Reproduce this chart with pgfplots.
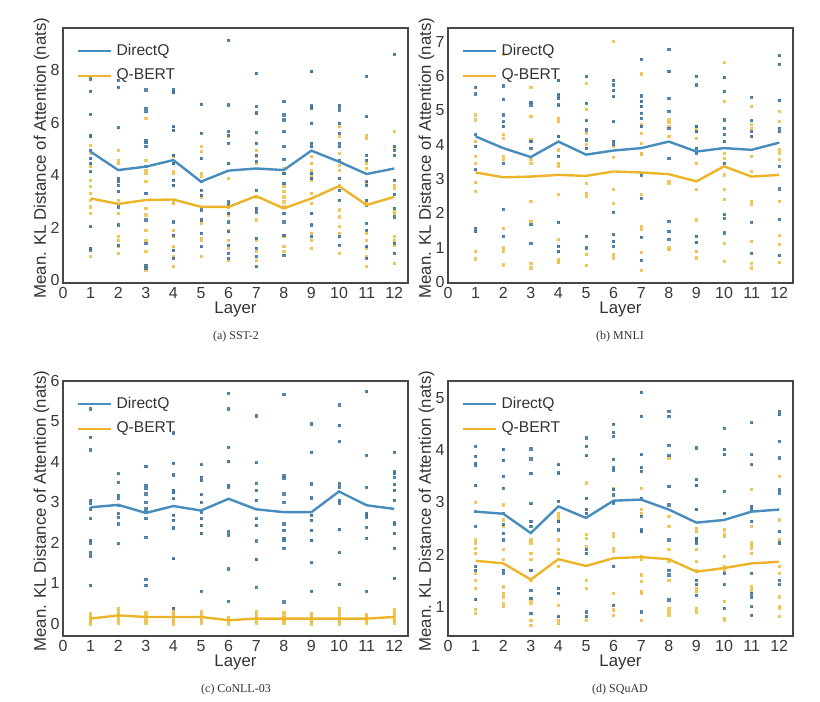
\documentclass[border=0pt]{standalone}
\usepackage{fontspec}
\setmainfont{Liberation Sans}
\newfontfamily\capfont{Liberation Serif}
\usepackage{pgfplots}
\pgfplotsset{compat=1.18}
\definecolor{dqblue}{RGB}{70,140,188}
\definecolor{dqdot}{RGB}{52,108,152}
\definecolor{qbyel}{RGB}{236,180,40}
\definecolor{qbdot}{RGB}{238,188,62}
\pgfplotsset{
 klbase/.style={
  scale only axis, width=172.5pt, height=127.5pt, anchor=south west,
  xmin=0, xmax=12.5, xtick={0,1,...,12},
  axis line style={draw=black!72, line width=1pt},
  major tick length=0pt,
  clip mode=individual,
  /pgf/number format/assume math mode=true,
  tick label style={font=\fontsize{8}{9}\selectfont, text=black!78},
  xticklabel style={inner sep=1pt, yshift=-1pt},
  yticklabel style={inner sep=1pt, xshift=-0.6pt},
  label style={font=\fontsize{8.4}{9}\selectfont, text=black!80, inner sep=0.5pt},
  xlabel={Layer},
  ylabel={Mean. KL Distance of Attention (nats)},
  xlabel style={at={(axis description cs:0.5,-0.104)}, anchor=center},
  ylabel style={at={(axis description cs:-0.062,0.49)}, anchor=center},
  legend style={draw=none, fill=none, at={(axis description cs:0.04,0.955)}, anchor=north west,
    font=\fontsize{7.8}{9}\selectfont, text=black!80, row sep=1.3pt, inner sep=0pt},
  legend cell align=left,
  legend image code/.code={\draw[#1] (0pt,0pt) -- (16.5pt,0pt);},
 },
 bdot/.style={only marks, mark=square*, mark size=0.55pt, color=dqdot, opacity=0.8, forget plot},
 ydot/.style={only marks, mark=square*, mark size=0.55pt, color=qbdot, opacity=0.8, forget plot},
 bline/.style={color=dqblue, line width=1.2pt, mark=none},
 yline/.style={color=qbyel, line width=1.2pt, mark=none},
}
\begin{document}
\begin{tikzpicture}
\path[use as bounding box] (0pt,0pt) rectangle (410pt,351pt);
% ---------------- (a) SST-2
\begin{axis}[klbase, at={(31.5pt,209.5pt)}, ymin=-0.11, ymax=9.6, ytick={0,2,4,6,8}]
\addplot[ydot] coordinates {
(1,5.14)(1,4.83)(1,4.32)(1,3.81)(1,3.56)(1,3.30)(1,3.05)(1,2.79)(1,2.54)(1,1.21)(1,0.89)
(2,4.95)(2,4.57)(2,4.44)(2,3.81)(2,3.37)(2,3.05)(2,2.54)(2,1.65)(2,1.52)(2,1.27)(2,1.02)
(3,6.16)(3,4.57)(3,4.19)(3,4.06)(3,3.75)(3,2.73)(3,2.48)(3,1.90)(3,1.52)(3,1.08)(3,0.51)(3,0.38)
(4,4.70)(4,4.13)(4,4.06)(4,3.62)(4,3.05)(4,2.92)(4,1.90)(4,1.65)(4,1.27)(4,0.89)(4,0.51)
(5,5.08)(5,4.89)(5,4.06)(5,3.94)(5,3.17)(5,2.29)(5,2.16)(5,1.59)(5,1.52)(5,0.89)
(6,5.46)(6,3.87)(6,2.79)(6,2.48)(6,1.90)(6,1.52)(6,1.21)(6,0.76)
(7,6.35)(7,4.95)(7,4.70)(7,4.44)(7,3.17)(7,2.29)(7,1.52)(7,1.08)(7,0.76)
(8,4.25)(8,4.06)(8,3.56)(8,3.37)(8,3.17)(8,2.98)(8,2.79)(8,1.65)(8,1.27)(8,1.08)
(9,4.70)(9,4.44)(9,4.19)(9,3.94)(9,3.81)(9,3.30)(9,2.92)(9,1.78)(9,1.52)(9,1.21)
(10,6.60)(10,5.84)(10,5.46)(10,4.83)(10,4.38)(10,4.19)(10,3.62)(10,2.67)(10,2.41)(10,2.03)(10,1.78)(10,1.02)
(11,5.52)(11,5.40)(11,4.44)(11,4.25)(11,3.68)(11,2.98)(11,1.78)(11,1.52)(11,1.21)(11,0.89)(11,0.51)
(12,5.65)(12,5.02)(12,3.62)(12,3.49)(12,2.60)(12,2.54)(12,1.65)(12,1.52)(12,1.33)(12,0.63)
};
\addplot[bdot] coordinates {
(1,7.66)(1,7.20)(1,6.32)(1,5.52)(1,5.46)(1,4.95)(1,4.63)(1,4.44)(1,4.13)(1,2.03)(1,1.21)(1,1.14)
(2,7.62)(2,7.34)(2,5.80)(2,3.87)(2,3.75)(2,3.62)(2,3.37)(2,2.79)(2,2.10)(2,1.33)
(3,7.24)(3,6.54)(3,6.41)(3,5.33)(3,5.23)(3,5.08)(3,4.32)(3,3.30)(3,2.29)(3,1.40)(3,0.57)(3,0.44)
(4,7.24)(4,7.14)(4,5.84)(4,5.71)(4,4.76)(4,4.44)(4,3.81)(4,3.62)(4,2.22)(4,1.71)(4,1.14)(4,0.83)
(5,6.70)(5,5.59)(5,4.63)(5,3.75)(5,3.43)(5,3.24)(5,2.67)(5,2.29)(5,1.78)(5,1.27)
(6,9.14)(6,6.67)(6,5.65)(6,5.52)(6,5.21)(6,4.44)(6,2.98)(6,2.86)(6,2.54)(6,2.22)(6,1.84)(6,1.33)(6,1.02)(6,0.83)
(7,7.87)(7,6.60)(7,6.37)(7,5.61)(7,5.21)(7,4.76)(7,4.51)(7,3.43)(7,2.73)(7,2.60)(7,1.59)(7,1.21)(7,0.89)(7,0.51)
(8,6.79)(8,6.29)(8,6.10)(8,5.65)(8,5.08)(8,4.60)(8,4.06)(8,3.68)(8,2.54)(8,2.22)(8,1.71)(8,0.95)
(9,7.94)(9,6.63)(9,6.54)(9,5.97)(9,5.21)(9,5.08)(9,4.06)(9,3.87)(9,2.54)(9,2.10)(9,1.65)
(10,6.63)(10,6.48)(10,5.97)(10,5.59)(10,5.21)(10,5.08)(10,4.57)(10,3.87)(10,3.43)(10,3.05)(10,1.65)(10,1.33)
(11,7.77)(11,6.22)(11,4.76)(11,4.57)(11,3.75)(11,3.62)(11,3.05)(11,2.86)(11,2.16)(11,1.90)(11,1.27)(11,0.83)
(12,8.60)(12,5.08)(12,4.95)(12,4.76)(12,3.81)(12,3.26)(12,2.73)(12,2.41)(12,1.40)(12,1.02)
};
\addplot[bline] coordinates {(1,4.89)(2,4.19)(3,4.32)(4,4.57)(5,3.75)(6,4.17)(7,4.25)(8,4.19)(9,4.93)(10,4.51)(11,4.04)(12,4.25)};
\addlegendentry{DirectQ}
\addplot[yline] coordinates {(1,3.11)(2,2.90)(3,3.05)(4,3.07)(5,2.79)(6,2.79)(7,3.20)(8,2.73)(9,3.11)(10,3.58)(11,2.86)(12,3.17)};
\addlegendentry{Q-BERT}
\end{axis}
% ---------------- (b) MNLI
\begin{axis}[klbase, at={(224pt,209.5pt)}, ymin=-0.03, ymax=7.4, ytick={0,1,...,7}]
\addplot[ydot] coordinates {
(1,4.87)(1,4.72)(1,4.09)(1,3.66)(1,3.46)(1,2.90)(1,2.64)(1,0.89)(1,0.67)
(2,6.64)(2,4.29)(2,4.19)(2,3.66)(2,3.56)(2,1.57)(2,0.99)(2,0.89)(2,0.50)
(3,5.67)(3,4.82)(3,4.14)(3,3.56)(3,3.46)(3,2.35)(3,1.77)(3,0.55)(3,0.41)
(4,4.77)(4,4.67)(4,3.85)(4,3.46)(4,3.37)(4,2.54)(4,1.23)(4,0.65)(4,0.57)
(5,5.79)(5,5.03)(5,4.34)(5,4.00)(5,2.88)(5,2.59)(5,2.49)(5,0.80)(5,0.48)
(6,7.00)(6,3.95)(6,3.64)(6,2.69)(6,2.28)(6,0.80)(6,0.70)
(7,6.06)(7,4.58)(7,4.34)(7,4.04)(7,3.75)(7,3.71)(7,2.54)(7,1.62)(7,1.52)(7,0.86)(7,0.34)
(8,4.72)(8,4.65)(8,4.53)(8,4.24)(8,2.93)(8,2.88)(8,0.99)(8,0.94)
(9,4.53)(9,4.43)(9,4.19)(9,3.46)(9,2.69)(9,1.81)(9,0.89)(9,0.70)
(10,6.39)(10,5.26)(10,3.75)(10,3.61)(10,3.12)(10,2.69)(10,2.40)(10,1.13)(10,0.60)
(11,5.11)(11,4.58)(11,4.48)(11,3.66)(11,3.22)(11,2.35)(11,2.25)(11,1.18)(11,0.55)(11,0.41)
(12,4.97)(12,4.67)(12,3.85)(12,3.75)(12,3.56)(12,2.35)(12,1.35)(12,1.09)(12,0.57)
};
\addplot[bdot] coordinates {
(1,5.67)(1,5.48)(1,4.29)(1,3.95)(1,3.27)(1,1.57)(1,1.47)
(2,5.71)(2,5.32)(2,4.87)(2,4.67)(2,4.53)(2,3.46)(2,2.12)(2,1.33)
(3,5.23)(3,5.16)(3,4.09)(3,3.90)(3,1.67)(3,1.13)
(4,5.87)(4,5.45)(4,5.35)(4,5.16)(4,4.24)(4,3.66)(4,1.74)(4,1.04)(4,0.89)
(5,5.98)(5,5.21)(5,4.70)(5,4.43)(5,4.14)(5,3.90)(5,1.33)(5,0.99)
(6,5.87)(6,5.74)(6,5.58)(6,5.40)(6,4.67)(6,4.09)(6,4.00)(6,2.03)(6,1.38)(6,1.18)(6,1.04)
(7,6.49)(7,5.42)(7,5.26)(7,5.11)(7,4.92)(7,4.77)(7,4.53)(7,3.12)(7,2.44)(7,1.31)(7,0.63)
(8,6.78)(8,6.13)(8,5.35)(8,4.97)(8,4.48)(8,3.61)(8,1.77)(8,1.47)(8,1.25)
(9,6.00)(9,5.74)(9,4.53)(9,4.38)(9,3.90)(9,3.75)(9,1.33)(9,1.15)
(10,5.96)(10,5.55)(10,4.72)(10,4.48)(10,4.29)(10,4.09)(10,3.46)(10,1.96)(10,1.86)(10,1.43)
(11,5.38)(11,4.70)(11,4.38)(11,4.24)(11,1.74)(11,0.84)
(12,6.59)(12,6.35)(12,5.29)(12,4.48)(12,4.38)(12,3.37)(12,2.71)(12,1.83)(12,0.77)
};
\addplot[bline] coordinates {(1,4.24)(2,3.90)(3,3.64)(4,4.09)(5,3.71)(6,3.83)(7,3.90)(8,4.09)(9,3.80)(10,3.90)(11,3.85)(12,4.06)};
\addlegendentry{DirectQ}
\addplot[yline] coordinates {(1,3.19)(2,3.05)(3,3.07)(4,3.12)(5,3.09)(6,3.22)(7,3.19)(8,3.14)(9,2.93)(10,3.37)(11,3.07)(12,3.12)};
\addlegendentry{Q-BERT}
\end{axis}
% ---------------- (c) CoNLL-03
\begin{axis}[klbase, at={(31.5pt,33pt)}, ymin=-0.3, ymax=6.0, ytick={0,1,...,6}]
\addplot[ydot] coordinates {
(1,0.00)(1,0.04)(1,0.08)(1,0.12)(1,0.16)(1,0.20)(1,0.25)
(2,0.02)(2,0.08)(2,0.14)(2,0.20)(2,0.26)(2,0.32)(2,0.38)
(3,0.02)(3,0.07)(3,0.12)(3,0.18)(3,0.23)(3,0.28)
(4,0.00)(4,0.06)(4,0.12)(4,0.17)(4,0.23)(4,0.30)(4,0.36)
(5,0.02)(5,0.07)(5,0.12)(5,0.18)(5,0.24)(5,0.30)
(6,0.00)(6,0.04)(6,0.08)(6,0.12)(6,0.16)
(7,0.02)(7,0.07)(7,0.13)(7,0.19)(7,0.25)(7,0.30)
(8,0.02)(8,0.06)(8,0.11)(8,0.16)(8,0.22)(8,0.28)
(9,0.00)(9,0.05)(9,0.10)(9,0.15)(9,0.20)(9,0.26)
(10,0.00)(10,0.06)(10,0.12)(10,0.19)(10,0.26)(10,0.33)(10,0.38)
(11,0.02)(11,0.07)(11,0.12)(11,0.17)(11,0.22)
(12,0.02)(12,0.07)(12,0.12)(12,0.18)(12,0.24)(12,0.30)(12,0.35)
};
\addplot[bdot] coordinates {
(1,5.31)(1,4.61)(1,4.30)(1,3.05)(1,2.97)(1,2.84)(1,2.60)(1,2.06)(1,2.00)(1,1.77)(1,1.68)(1,0.95)
(2,3.71)(2,3.50)(2,3.17)(2,3.09)(2,2.93)(2,2.72)(2,2.64)(2,2.47)(2,1.98)
(3,3.89)(3,3.42)(3,3.34)(3,3.21)(3,3.01)(3,2.84)(3,2.76)(3,2.60)(3,2.14)(3,1.10)(3,0.95)
(4,4.72)(4,3.97)(4,3.68)(4,3.30)(4,3.24)(4,3.09)(4,2.68)(4,2.56)(4,2.37)(4,1.61)(4,0.39)
(5,3.93)(5,3.62)(5,3.54)(5,3.19)(5,3.01)(5,2.76)(5,2.60)(5,2.43)(5,2.23)(5,0.81)
(6,5.70)(6,5.31)(6,4.36)(6,4.01)(6,3.42)(6,3.38)(6,2.27)(6,2.19)(6,1.36)(6,0.56)
(7,5.14)(7,3.98)(7,3.48)(7,3.30)(7,3.05)(7,2.60)(7,2.43)(7,2.05)(7,1.59)(7,0.91)
(8,5.66)(8,3.66)(8,3.60)(8,3.21)(8,3.01)(8,2.47)(8,2.31)(8,2.12)(8,2.06)(8,1.87)(8,0.54)
(9,4.94)(9,4.24)(9,3.46)(9,3.11)(9,2.68)(9,2.56)(9,2.31)(9,2.06)(9,1.51)(9,0.81)
(10,5.41)(10,4.90)(10,4.50)(10,3.46)(10,3.38)(10,3.05)(10,2.99)(10,2.33)(10,1.76)(10,0.97)
(11,5.74)(11,4.17)(11,3.38)(11,2.72)(11,2.68)(11,2.64)(11,2.39)(11,2.12)(11,0.81)
(12,4.24)(12,3.76)(12,3.71)(12,3.62)(12,3.44)(12,3.30)(12,3.05)(12,2.50)(12,2.46)(12,2.23)(12,1.87)(12,1.13)
};
\addplot[bline] coordinates {(1,2.88)(2,2.94)(3,2.74)(4,2.91)(5,2.80)(6,3.09)(7,2.83)(8,2.76)(9,2.76)(10,3.27)(11,2.93)(12,2.84)};
\addlegendentry{DirectQ}
\addplot[yline] coordinates {(1,0.13)(2,0.21)(3,0.17)(4,0.17)(5,0.17)(6,0.09)(7,0.13)(8,0.13)(9,0.13)(10,0.13)(11,0.13)(12,0.17)};
\addlegendentry{Q-BERT}
\end{axis}
% ---------------- (d) SQuAD
\begin{axis}[klbase, at={(224pt,33pt)}, ymin=0.44, ymax=5.32, ytick={1,2,...,5}]
\addplot[ydot] coordinates {
(1,3.00)(1,2.28)(1,2.22)(1,2.12)(1,2.02)(1,1.64)(1,1.50)(1,1.35)(1,0.95)(1,0.88)
(2,2.95)(2,2.66)(2,2.54)(2,2.09)(2,1.90)(2,1.38)(2,1.26)(2,1.19)(2,1.06)(2,1.00)
(3,2.28)(3,2.22)(3,2.02)(3,1.90)(3,1.70)(3,1.51)(3,1.13)(3,1.06)(3,0.74)(3,0.65)
(4,2.79)(4,2.73)(4,2.66)(4,2.28)(4,2.09)(4,2.02)(4,1.77)(4,1.03)(4,0.74)(4,0.68)
(5,3.37)(5,2.38)(5,2.31)(5,2.15)(5,1.51)(5,1.35)(5,0.74)
(6,3.27)(6,2.41)(6,2.34)(6,2.12)(6,2.06)(6,1.26)(6,0.94)(6,0.84)
(7,3.27)(7,2.86)(7,2.79)(7,1.96)(7,1.90)(7,1.61)(7,1.48)(7,1.29)(7,1.26)(7,0.74)
(8,3.85)(8,2.73)(8,2.54)(8,2.09)(8,1.86)(8,1.51)(8,0.97)(8,0.90)(8,0.84)
(9,2.50)(9,2.44)(9,2.09)(9,1.86)(9,1.70)(9,1.35)(9,1.29)(9,0.97)(9,0.90)
(10,2.47)(10,2.38)(10,2.34)(10,1.96)(10,1.77)(10,1.70)(10,1.10)(10,0.78)(10,0.74)
(11,3.24)(11,2.54)(11,2.22)(11,2.18)(11,2.12)(11,2.02)(11,1.38)(11,1.32)
(12,3.50)(12,2.66)(12,2.28)(12,2.22)(12,1.77)(12,1.64)(12,1.19)(12,1.00)(12,0.97)(12,0.81)
};
\addplot[bdot] coordinates {
(1,4.07)(1,3.88)(1,3.75)(1,3.70)(1,3.32)(1,2.82)(1,2.54)(1,1.77)(1,1.70)(1,1.14)
(2,4.01)(2,3.80)(2,3.50)(2,3.27)(2,2.79)(2,2.57)(2,2.41)(2,2.28)(2,1.70)(2,1.64)
(3,4.02)(3,3.83)(3,3.55)(3,2.97)(3,2.63)(3,2.54)(3,1.70)(3,1.32)(3,1.16)(3,0.87)
(4,3.72)(4,3.56)(4,3.02)(4,2.63)(4,2.47)(4,1.35)(4,1.26)(4,0.81)
(5,4.23)(5,4.07)(5,3.89)(5,3.08)(5,2.86)(5,2.79)(5,2.09)(5,2.02)(5,0.90)(5,0.81)
(6,4.49)(6,4.33)(6,4.26)(6,3.82)(6,3.66)(6,3.62)(6,3.24)(6,3.14)(6,2.98)(6,1.77)(6,1.03)
(7,5.10)(7,4.65)(7,3.91)(7,3.66)(7,3.59)(7,3.08)(7,2.73)(7,2.47)(7,2.44)(7,0.90)
(8,4.74)(8,4.65)(8,4.09)(8,3.89)(8,3.30)(8,2.95)(8,2.28)(8,1.70)(8,1.61)(8,1.13)
(9,4.04)(9,3.43)(9,3.32)(9,2.86)(9,2.31)(9,2.28)(9,2.22)(9,1.51)(9,1.42)(9,1.22)
(10,4.42)(10,4.01)(10,3.91)(10,3.21)(10,2.79)(10,1.64)(10,1.42)(10,0.97)
(11,4.52)(11,3.91)(11,3.72)(11,2.92)(11,2.86)(11,2.63)(11,1.64)(11,1.26)(11,1.19)(11,1.00)(11,0.84)
(12,4.74)(12,4.68)(12,4.17)(12,3.85)(12,3.24)(12,3.18)(12,2.44)(12,2.22)(12,1.51)(12,1.42)
};
\addplot[bline] coordinates {(1,2.82)(2,2.78)(3,2.41)(4,2.92)(5,2.70)(6,3.03)(7,3.05)(8,2.86)(9,2.61)(10,2.66)(11,2.82)(12,2.86)};
\addlegendentry{DirectQ}
\addplot[yline] coordinates {(1,1.88)(2,1.83)(3,1.52)(4,1.91)(5,1.78)(6,1.93)(7,1.95)(8,1.91)(9,1.67)(10,1.74)(11,1.83)(12,1.86)};
\addlegendentry{Q-BERT}
\end{axis}
% captions
\node[font=\capfont\fontsize{6}{7}\selectfont, text=black!80] at (118pt,182.5pt) {(a) SST-2};
\node[font=\capfont\fontsize{6}{7}\selectfont, text=black!80] at (310pt,182.5pt) {(b) MNLI};
\node[font=\capfont\fontsize{6}{7}\selectfont, text=black!80] at (118pt,6pt) {(c) CoNLL-03};
\node[font=\capfont\fontsize{6}{7}\selectfont, text=black!80] at (310pt,6pt) {(d) SQuAD};
\end{tikzpicture}
\end{document}
